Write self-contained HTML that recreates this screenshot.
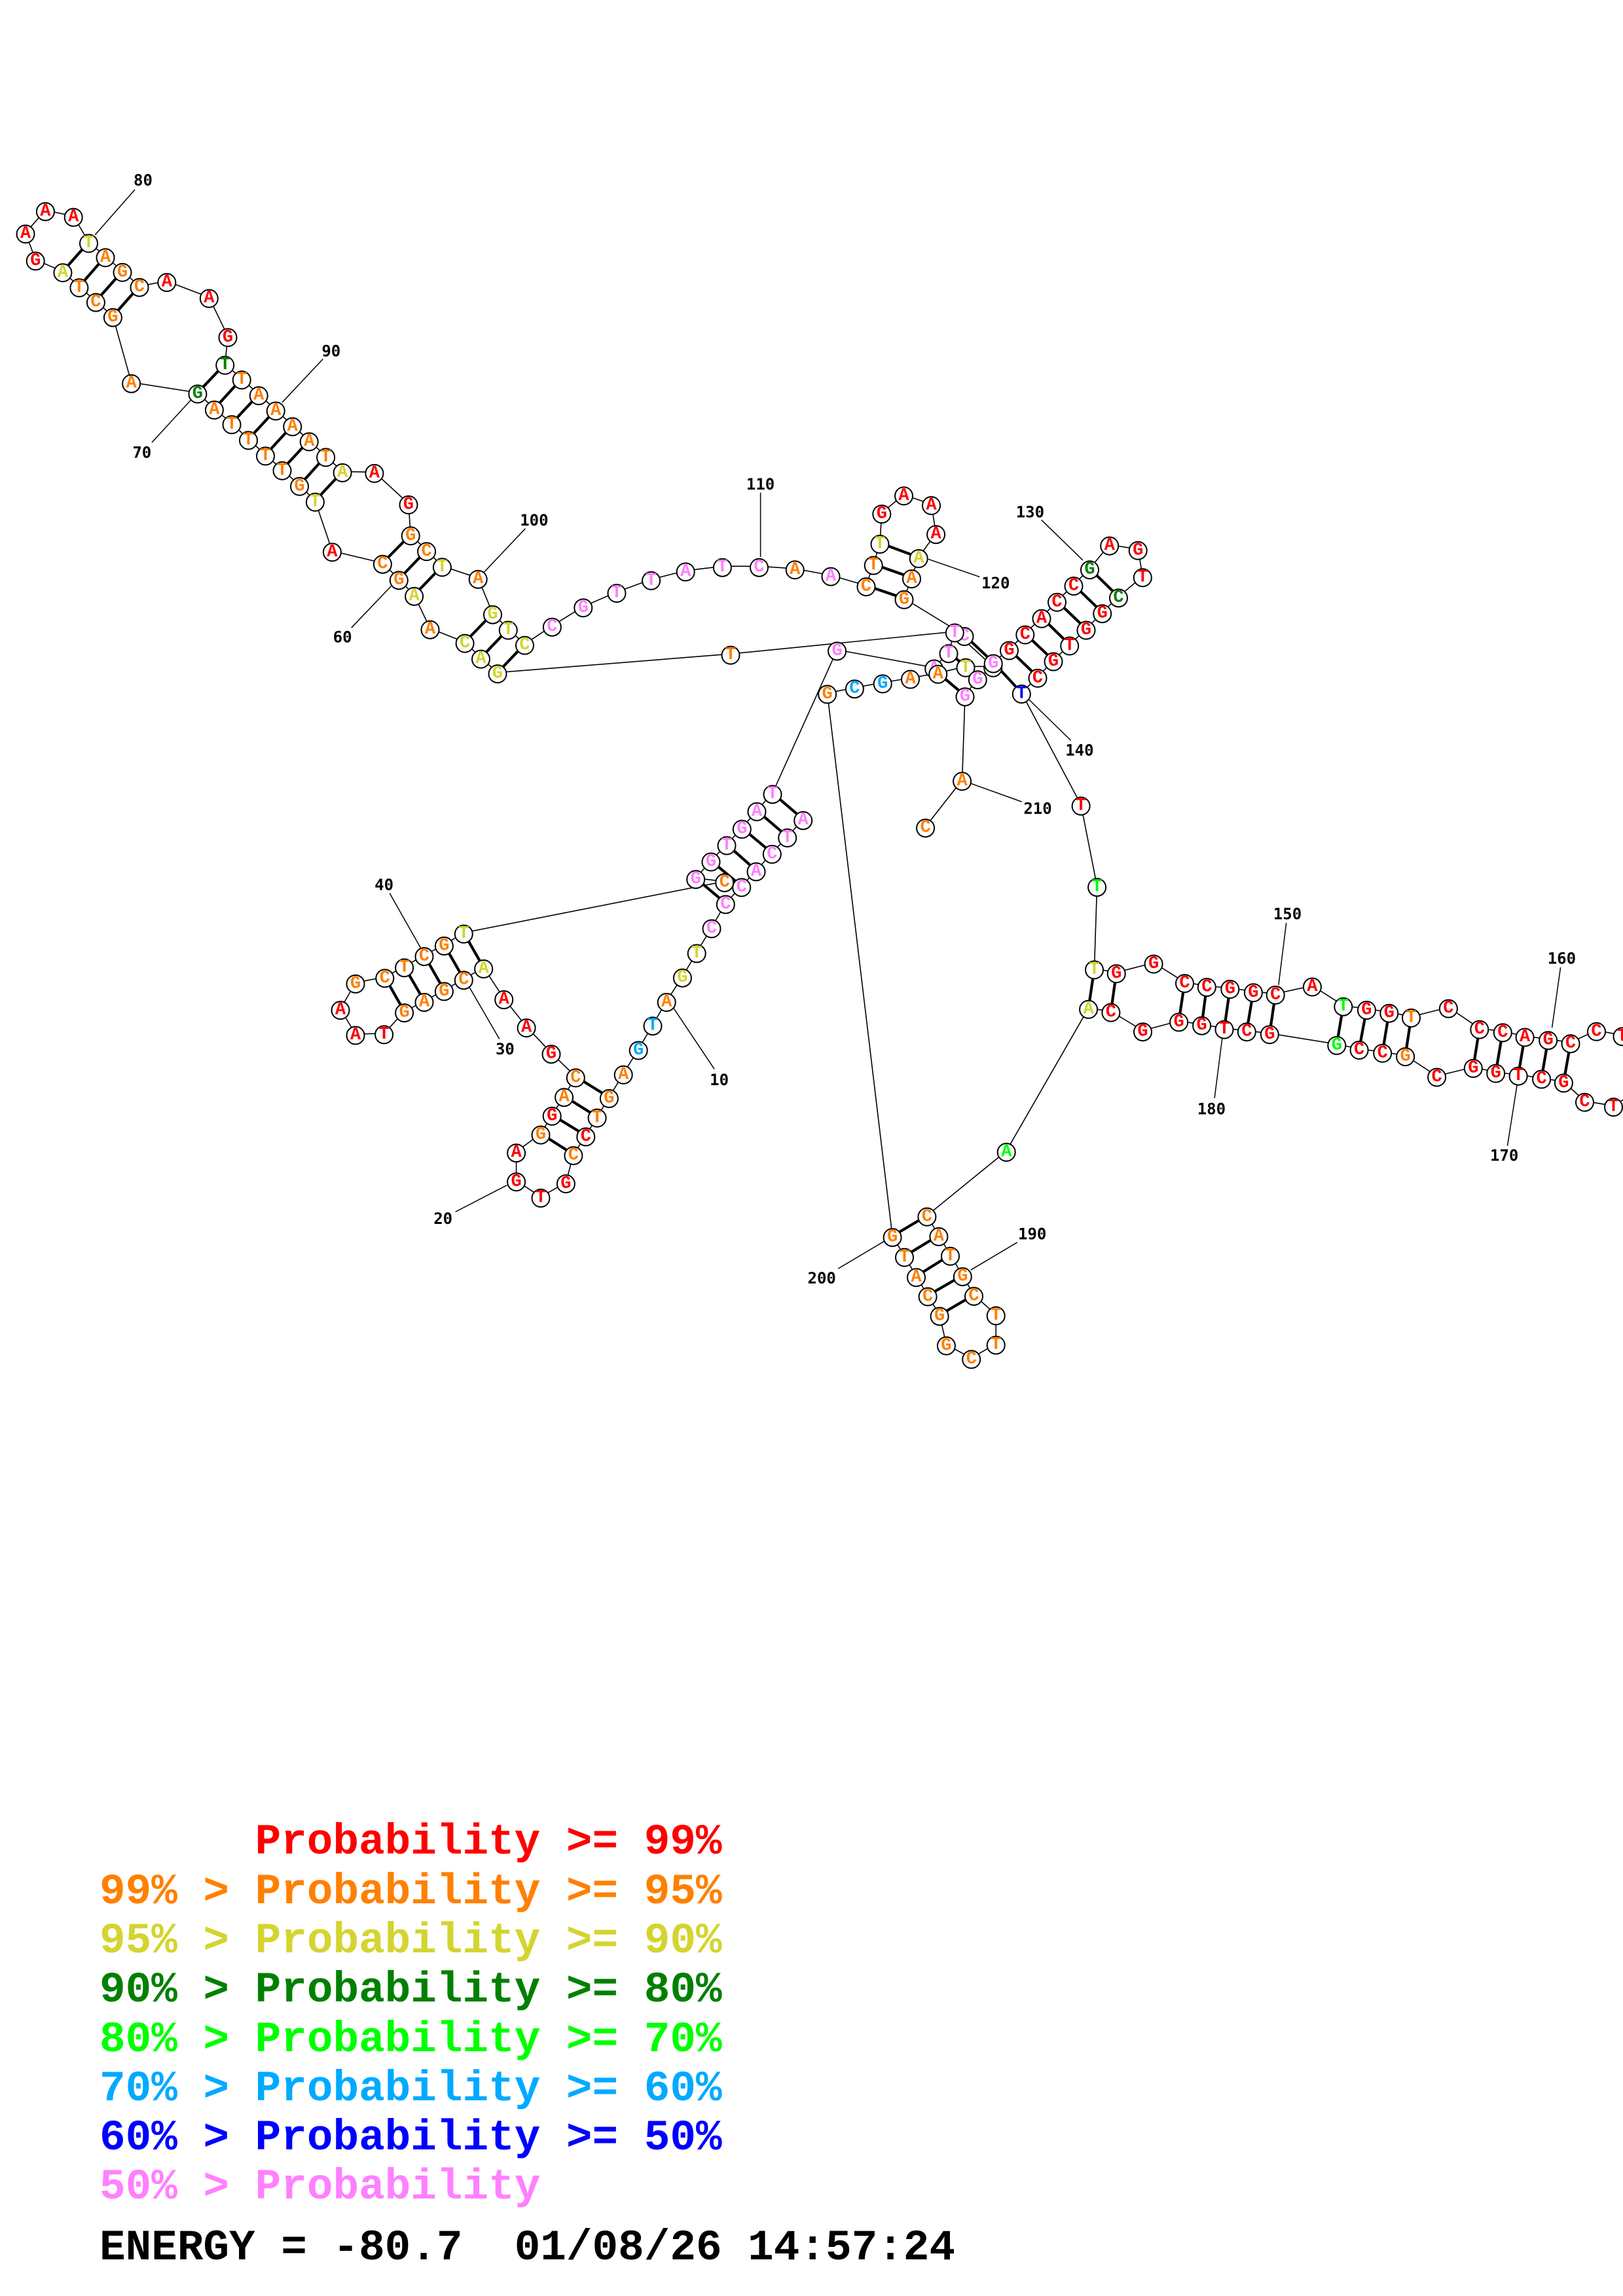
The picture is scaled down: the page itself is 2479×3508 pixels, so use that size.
<!DOCTYPE html>
<html><head><meta charset="utf-8"><style>
html,body{margin:0;padding:0;background:#fff}
svg{display:block}
.nd circle{fill:#fff;stroke:#000;stroke-width:2}
.nd text{font-family:"Liberation Mono","DejaVu Sans Mono",monospace;font-weight:bold;font-size:27px;text-anchor:middle;dominant-baseline:central}
.r{fill:#ff0000}.o{fill:#ff8000}.y{fill:#d4d430}.dg{fill:#008000}.g{fill:#00ff00}.lb{fill:#00aaff}.b{fill:#0000ff}.p{fill:#ff80ff}
.lab{font-family:"DejaVu Sans Mono","Liberation Mono",monospace;font-weight:bold;font-size:24px;text-anchor:middle;dominant-baseline:central;fill:#000}
.leg{font-family:"Liberation Mono","Courier New",monospace;font-weight:bold;font-size:66px;white-space:pre}
</style></head><body>
<svg width="2479" height="3508" viewBox="0 0 2479 3508" xmlns="http://www.w3.org/2000/svg">
<rect width="2479" height="3508" fill="#fff"/>
<!-- backbone -->
<polyline fill="none" stroke="#000" stroke-width="1.6" points="1226.7,1251.7 1202.7,1278.3 1179.3,1303.3 1155,1330 1132.7,1354 1108.3,1380 1087,1417 1064.2,1454.9 1042.4,1492.2 1018.2,1529.5 997,1565.7 975.2,1603 952.2,1640.3 930.4,1676.5 912.1,1706.3 894.8,1735 875.9,1763.7 864.4,1806.8 826,1828.6 788.6,1803.9 788.6,1759.7 826,1732.1 843.2,1703.4 861.6,1674.7 879.3,1644.9 842,1608.7 804.1,1568.6 769.7,1525.5 738.7,1478.4 708.3,1495.7 678.4,1512.9 648,1529.5 617.6,1545.6 586.6,1578.9 543,1580 520,1541.6 543,1501.4 587.8,1492.8 617.6,1476.7 648,1459.5 678.4,1443.4 708.3,1425.1 1106.7,1346.7 1062.7,1341.7 1086,1315 1110,1290 1133.3,1265 1156,1238.3 1180,1211.7 1278.6,992.9 1426.7,1020 1449,996.7 1458.3,965 1116,999.1 760,1027.6 734.5,1005.1 710.1,981.1 657,960.2 632.6,909.2 609.3,884.7 584.4,860.2 507.4,841.8 481.4,765.3 457.5,741.3 431,717.3 405.5,694.9 379.5,670.9 354,646.9 327.4,624.5 301.9,600 200.6,584.2 172.4,483.2 146.4,460.2 120.9,437.8 95.9,414.8 54.2,396.9 39,355.6 69.4,321.4 112.2,330.1 135.5,369.9 161,391.8 187,414.3 213,437.2 254.8,429.6 319.3,454.1 348,513.8 343.7,556.1 369.2,578.6 395.2,602.6 421.2,626 446.7,650 472.2,673 497.6,696.9 523.1,720.4 571.9,721.4 624,769.4 627.2,816.8 651.6,840.8 675.4,864.8 730.2,883.2 752.5,937.2 776.3,961 801.5,984.1 843.4,956.2 890.8,926.8 942,904.5 994.6,885.3 1047.2,871.9 1103.4,865.2 1159.5,865.2 1214.2,868.8 1269,879 1323,894.6 1334.2,862 1344,829.5 1346.8,783.5 1380.5,755.8 1422.5,770.5 1429.6,814.7 1403.2,851.5 1392.5,882.5 1381,914.3 1473,970.5 1517.2,1012 1541.5,992 1565.8,968 1591,943.3 1614.5,918.3 1640,893.5 1664.5,868.7 1694.7,832.1 1738.2,839.3 1745.3,880.6 1708.5,911.7 1683.7,935.7 1659,961 1633.7,985 1609,1009 1585,1034.3 1560.3,1058.5 1651.1,1229.6 1675.6,1353.7 1671.5,1479.9 1705.2,1485.8 1762.1,1471 1809.5,1500.6 1843.3,1506.5 1878.8,1509.5 1914.4,1514.8 1948.2,1518.4 2004.4,1506 2051.8,1536.2 2087.4,1541.5 2121.8,1546.2 2155.5,1553.4 2212.4,1539.1 2259.8,1571.1 2295.3,1575.9 2329.1,1583 2364.7,1587.7 2399,1592.7 2438.5,1574.3 2478,1581.8 2512,1608 2508,1662 2464.5,1689.6 2420.5,1682.2 2388.4,1652.9 2354.6,1647 2319.1,1642.2 2284.7,1638.1 2250.3,1630.4 2194.6,1644 2146.6,1612.6 2111.7,1607.3 2076.1,1602.5 2041.8,1595.4 1939.3,1578.8 1904.3,1574.7 1870,1571.1 1835.6,1565.2 1800.6,1559.9 1745.5,1574.7 1696.9,1545.1 1662.6,1540.3 1537.2,1758.5 1415.9,1857.3 1433.9,1887.5 1451.5,1917.4 1470.3,1948.7 1487.5,1978.6 1521.2,2008.4 1521.2,2053.2 1483.7,2075 1445.4,2054.3 1435.1,2009.2 1417.1,1979.3 1399.5,1949.9 1381.5,1919.3 1363.1,1888.7 1263.6,1058.9 1305.4,1050.7 1348.2,1042.9 1390.5,1036 1432.7,1028.3 1475,1018.3 1516.7,1018.3 1493.3,1036.7 1474,1062.7 1469.6,1191.8 1413.6,1263.2"/>
<line x1="1458.3" y1="965" x2="1516.7" y2="1018.3" stroke="#000" stroke-width="1.6"/>
<!-- pairs -->
<g stroke="#000" stroke-width="4.2" stroke-linecap="round">
<line x1="1226.7" y1="1251.7" x2="1180" y2="1211.7"/>
<line x1="1202.7" y1="1278.3" x2="1156" y2="1238.3"/>
<line x1="1179.3" y1="1303.3" x2="1133.3" y2="1265"/>
<line x1="1155" y1="1330" x2="1110" y2="1290"/>
<line x1="1132.7" y1="1354" x2="1086" y2="1315"/>
<line x1="1108.3" y1="1380" x2="1062.7" y2="1341.7"/>
<line x1="930.4" y1="1676.5" x2="879.3" y2="1644.9"/>
<line x1="912.1" y1="1706.3" x2="861.6" y2="1674.7"/>
<line x1="894.8" y1="1735" x2="843.2" y2="1703.4"/>
<line x1="875.9" y1="1763.7" x2="826" y2="1732.1"/>
<line x1="738.7" y1="1478.4" x2="708.3" y2="1425.1"/>
<line x1="708.3" y1="1495.7" x2="678.4" y2="1443.4"/>
<line x1="678.4" y1="1512.9" x2="648" y2="1459.5"/>
<line x1="648" y1="1529.5" x2="617.6" y2="1476.7"/>
<line x1="617.6" y1="1545.6" x2="587.8" y2="1492.8"/>
<line x1="760" y1="1027.6" x2="801.5" y2="984.1"/>
<line x1="734.5" y1="1005.1" x2="776.3" y2="961"/>
<line x1="710.1" y1="981.1" x2="752.5" y2="937.2"/>
<line x1="632.6" y1="909.2" x2="675.4" y2="864.8"/>
<line x1="609.3" y1="884.7" x2="651.6" y2="840.8"/>
<line x1="584.4" y1="860.2" x2="627.2" y2="816.8"/>
<line x1="481.4" y1="765.3" x2="523.1" y2="720.4"/>
<line x1="457.5" y1="741.3" x2="497.6" y2="696.9"/>
<line x1="431" y1="717.3" x2="472.2" y2="673"/>
<line x1="405.5" y1="694.9" x2="446.7" y2="650"/>
<line x1="379.5" y1="670.9" x2="421.2" y2="626"/>
<line x1="354" y1="646.9" x2="395.2" y2="602.6"/>
<line x1="327.4" y1="624.5" x2="369.2" y2="578.6"/>
<line x1="301.9" y1="600" x2="343.7" y2="556.1"/>
<line x1="172.4" y1="483.2" x2="213" y2="437.2"/>
<line x1="146.4" y1="460.2" x2="187" y2="414.3"/>
<line x1="120.9" y1="437.8" x2="161" y2="391.8"/>
<line x1="95.9" y1="414.8" x2="135.5" y2="369.9"/>
<line x1="1323" y1="894.6" x2="1381" y2="914.3"/>
<line x1="1334.2" y1="862" x2="1392.5" y2="882.5"/>
<line x1="1344" y1="829.5" x2="1403.2" y2="851.5"/>
<line x1="1473" y1="970.5" x2="1517.2" y2="1012"/>
<line x1="1517.2" y1="1012" x2="1560.3" y2="1058.5"/>
<line x1="1541.5" y1="992" x2="1585" y2="1034.3"/>
<line x1="1565.8" y1="968" x2="1609" y2="1009"/>
<line x1="1591" y1="943.3" x2="1633.7" y2="985"/>
<line x1="1614.5" y1="918.3" x2="1659" y2="961"/>
<line x1="1640" y1="893.5" x2="1683.7" y2="935.7"/>
<line x1="1664.5" y1="868.7" x2="1708.5" y2="911.7"/>
<line x1="1671.5" y1="1479.9" x2="1662.6" y2="1540.3"/>
<line x1="1705.2" y1="1485.8" x2="1696.9" y2="1545.1"/>
<line x1="1809.5" y1="1500.6" x2="1800.6" y2="1559.9"/>
<line x1="1843.3" y1="1506.5" x2="1835.6" y2="1565.2"/>
<line x1="1878.8" y1="1509.5" x2="1870" y2="1571.1"/>
<line x1="1914.4" y1="1514.8" x2="1904.3" y2="1574.7"/>
<line x1="1948.2" y1="1518.4" x2="1939.3" y2="1578.8"/>
<line x1="2051.8" y1="1536.2" x2="2041.8" y2="1595.4"/>
<line x1="2087.4" y1="1541.5" x2="2076.1" y2="1602.5"/>
<line x1="2121.8" y1="1546.2" x2="2111.7" y2="1607.3"/>
<line x1="2155.5" y1="1553.4" x2="2146.6" y2="1612.6"/>
<line x1="2259.8" y1="1571.1" x2="2250.3" y2="1630.4"/>
<line x1="2295.3" y1="1575.9" x2="2284.7" y2="1638.1"/>
<line x1="2329.1" y1="1583" x2="2319.1" y2="1642.2"/>
<line x1="2364.7" y1="1587.7" x2="2354.6" y2="1647"/>
<line x1="2399" y1="1592.7" x2="2388.4" y2="1652.9"/>
<line x1="1415.9" y1="1857.3" x2="1363.1" y2="1888.7"/>
<line x1="1433.9" y1="1887.5" x2="1381.5" y2="1919.3"/>
<line x1="1451.5" y1="1917.4" x2="1399.5" y2="1949.9"/>
<line x1="1470.3" y1="1948.7" x2="1417.1" y2="1979.3"/>
<line x1="1487.5" y1="1978.6" x2="1435.1" y2="2009.2"/>
<line x1="1432.7" y1="1028.3" x2="1474" y2="1062.7"/>
<line x1="1449" y1="996.7" x2="1475" y2="1018.3"/>
</g>
<!-- label leaders -->
<g stroke="#000" stroke-width="1.5">
<line x1="145.3" y1="358.7" x2="206" y2="289.8"/>
<line x1="431" y1="614.8" x2="493.3" y2="548.5"/>
<line x1="295.4" y1="607" x2="232" y2="676"/>
<line x1="737.2" y1="876.5" x2="802.3" y2="807.7"/>
<line x1="599" y1="893.9" x2="536.7" y2="959.2"/>
<line x1="1161.6" y1="752.7" x2="1161.6" y2="851"/>
<line x1="1417.9" y1="854.3" x2="1496.4" y2="881.4"/>
<line x1="1590.9" y1="794.6" x2="1654" y2="856"/>
<line x1="1570.7" y1="1067.9" x2="1635.7" y2="1131.4"/>
<line x1="1964.7" y1="1410" x2="1952.9" y2="1504.8"/>
<line x1="2383.6" y1="1478.1" x2="2370.6" y2="1570"/>
<line x1="2317.9" y1="1652.9" x2="2302.5" y2="1750.6"/>
<line x1="1867" y1="1584.8" x2="1855.1" y2="1677.8"/>
<line x1="1482.9" y1="1940.3" x2="1553.7" y2="1898.2"/>
<line x1="1280.1" y1="1938.4" x2="1350.9" y2="1896.3"/>
<line x1="1482.9" y1="1197.1" x2="1560.7" y2="1225"/>
<line x1="1028.6" y1="1539.9" x2="1091.1" y2="1633.4"/>
<line x1="774.3" y1="1810.8" x2="695.7" y2="1851.5"/>
<line x1="716.9" y1="1508.3" x2="762.8" y2="1587.5"/>
<line x1="595.2" y1="1364.8" x2="642.3" y2="1448"/>
</g>
<g class="lab">
<text x="218.5" y="275.5">80</text>
<text x="505.8" y="536.7">90</text>
<text x="216.8" y="691.3">70</text>
<text x="815.9" y="794.9">100</text>
<text x="523.1" y="973.5">60</text>
<text x="1161.6" y="740.2">110</text>
<text x="1520.8" y="891.1">120</text>
<text x="1573.4" y="782.6">130</text>
<text x="1648.9" y="1146.4">140</text>
<text x="1966.5" y="1396.3">150</text>
<text x="2385.4" y="1464.5">160</text>
<text x="2297.7" y="1765.5">170</text>
<text x="1850.4" y="1694.4">180</text>
<text x="1576.7" y="1885.6">190</text>
<text x="1255.2" y="1953">200</text>
<text x="1585" y="1235.7">210</text>
<text x="1098.6" y="1650">10</text>
<text x="676.7" y="1861.9">20</text>
<text x="771.4" y="1603">30</text>
<text x="586.6" y="1352.2">40</text>
</g>
<!-- nucleotides -->
<g class="nd"><g transform="translate(0,2)">
<circle cx="1426.7" cy="1020" r="13.5"/><text x="1426.7" y="1020" class="p">A</text>
<circle cx="1516.7" cy="1018.3" r="13.5"/><text x="1516.7" y="1018.3" class="p">G</text>
<circle cx="1473" cy="970.5" r="13.5"/><text x="1473" y="970.5" class="p">C</text>
<circle cx="1226.7" cy="1251.7" r="13.5"/><text x="1226.7" y="1251.7" class="p">A</text>
<circle cx="1202.7" cy="1278.3" r="13.5"/><text x="1202.7" y="1278.3" class="p">T</text>
<circle cx="1179.3" cy="1303.3" r="13.5"/><text x="1179.3" y="1303.3" class="p">C</text>
<circle cx="1155" cy="1330" r="13.5"/><text x="1155" y="1330" class="p">A</text>
<circle cx="1132.7" cy="1354" r="13.5"/><text x="1132.7" y="1354" class="p">C</text>
<circle cx="1108.3" cy="1380" r="13.5"/><text x="1108.3" y="1380" class="p">C</text>
<circle cx="1087" cy="1417" r="13.5"/><text x="1087" y="1417" class="p">C</text>
<circle cx="1064.2" cy="1454.9" r="13.5"/><text x="1064.2" y="1454.9" class="y">T</text>
<circle cx="1042.4" cy="1492.2" r="13.5"/><text x="1042.4" y="1492.2" class="y">G</text>
<circle cx="1018.2" cy="1529.5" r="13.5"/><text x="1018.2" y="1529.5" class="o">A</text>
<circle cx="997" cy="1565.7" r="13.5"/><text x="997" y="1565.7" class="lb">T</text>
<circle cx="975.2" cy="1603" r="13.5"/><text x="975.2" y="1603" class="lb">G</text>
<circle cx="952.2" cy="1640.3" r="13.5"/><text x="952.2" y="1640.3" class="o">A</text>
<circle cx="930.4" cy="1676.5" r="13.5"/><text x="930.4" y="1676.5" class="o">G</text>
<circle cx="912.1" cy="1706.3" r="13.5"/><text x="912.1" y="1706.3" class="o">T</text>
<circle cx="894.8" cy="1735" r="13.5"/><text x="894.8" y="1735" class="r">C</text>
<circle cx="875.9" cy="1763.7" r="13.5"/><text x="875.9" y="1763.7" class="o">C</text>
<circle cx="864.4" cy="1806.8" r="13.5"/><text x="864.4" y="1806.8" class="r">G</text>
<circle cx="826" cy="1828.6" r="13.5"/><text x="826" y="1828.6" class="r">T</text>
<circle cx="788.6" cy="1803.9" r="13.5"/><text x="788.6" y="1803.9" class="r">G</text>
<circle cx="788.6" cy="1759.7" r="13.5"/><text x="788.6" y="1759.7" class="r">A</text>
<circle cx="826" cy="1732.1" r="13.5"/><text x="826" y="1732.1" class="o">G</text>
<circle cx="843.2" cy="1703.4" r="13.5"/><text x="843.2" y="1703.4" class="r">G</text>
<circle cx="861.6" cy="1674.7" r="13.5"/><text x="861.6" y="1674.7" class="o">A</text>
<circle cx="879.3" cy="1644.9" r="13.5"/><text x="879.3" y="1644.9" class="o">C</text>
<circle cx="842" cy="1608.7" r="13.5"/><text x="842" y="1608.7" class="r">G</text>
<circle cx="804.1" cy="1568.6" r="13.5"/><text x="804.1" y="1568.6" class="r">A</text>
<circle cx="769.7" cy="1525.5" r="13.5"/><text x="769.7" y="1525.5" class="r">A</text>
<circle cx="738.7" cy="1478.4" r="13.5"/><text x="738.7" y="1478.4" class="y">A</text>
<circle cx="708.3" cy="1495.7" r="13.5"/><text x="708.3" y="1495.7" class="o">C</text>
<circle cx="678.4" cy="1512.9" r="13.5"/><text x="678.4" y="1512.9" class="o">G</text>
<circle cx="648" cy="1529.5" r="13.5"/><text x="648" y="1529.5" class="o">A</text>
<circle cx="617.6" cy="1545.6" r="13.5"/><text x="617.6" y="1545.6" class="o">G</text>
<circle cx="586.6" cy="1578.9" r="13.5"/><text x="586.6" y="1578.9" class="r">T</text>
<circle cx="543" cy="1580" r="13.5"/><text x="543" y="1580" class="r">A</text>
<circle cx="520" cy="1541.6" r="13.5"/><text x="520" y="1541.6" class="r">A</text>
<circle cx="543" cy="1501.4" r="13.5"/><text x="543" y="1501.4" class="o">G</text>
<circle cx="587.8" cy="1492.8" r="13.5"/><text x="587.8" y="1492.8" class="o">C</text>
<circle cx="617.6" cy="1476.7" r="13.5"/><text x="617.6" y="1476.7" class="o">T</text>
<circle cx="648" cy="1459.5" r="13.5"/><text x="648" y="1459.5" class="o">C</text>
<circle cx="678.4" cy="1443.4" r="13.5"/><text x="678.4" y="1443.4" class="o">G</text>
<circle cx="708.3" cy="1425.1" r="13.5"/><text x="708.3" y="1425.1" class="y">T</text>
<circle cx="1062.7" cy="1341.7" r="13.5"/><text x="1062.7" y="1341.7" class="p">G</text>
<circle cx="1106.7" cy="1346.7" r="13.5"/><text x="1106.7" y="1346.7" class="o">C</text>
<circle cx="1086" cy="1315" r="13.5"/><text x="1086" y="1315" class="p">G</text>
<circle cx="1110" cy="1290" r="13.5"/><text x="1110" y="1290" class="p">T</text>
<circle cx="1133.3" cy="1265" r="13.5"/><text x="1133.3" y="1265" class="p">G</text>
<circle cx="1156" cy="1238.3" r="13.5"/><text x="1156" y="1238.3" class="p">A</text>
<circle cx="1180" cy="1211.7" r="13.5"/><text x="1180" y="1211.7" class="p">T</text>
<circle cx="1278.6" cy="992.9" r="13.5"/><text x="1278.6" y="992.9" class="p">G</text>
<circle cx="1449" cy="996.7" r="13.5"/><text x="1449" y="996.7" class="p">T</text>
<circle cx="1458.3" cy="965" r="13.5"/><text x="1458.3" y="965" class="p">T</text>
<circle cx="1116" cy="999.1" r="13.5"/><text x="1116" y="999.1" class="o">T</text>
<circle cx="760" cy="1027.6" r="13.5"/><text x="760" y="1027.6" class="y">G</text>
<circle cx="734.5" cy="1005.1" r="13.5"/><text x="734.5" y="1005.1" class="y">A</text>
<circle cx="710.1" cy="981.1" r="13.5"/><text x="710.1" y="981.1" class="y">C</text>
<circle cx="657" cy="960.2" r="13.5"/><text x="657" y="960.2" class="o">A</text>
<circle cx="632.6" cy="909.2" r="13.5"/><text x="632.6" y="909.2" class="y">A</text>
<circle cx="609.3" cy="884.7" r="13.5"/><text x="609.3" y="884.7" class="o">G</text>
<circle cx="584.4" cy="860.2" r="13.5"/><text x="584.4" y="860.2" class="o">C</text>
<circle cx="507.4" cy="841.8" r="13.5"/><text x="507.4" y="841.8" class="r">A</text>
<circle cx="481.4" cy="765.3" r="13.5"/><text x="481.4" y="765.3" class="y">T</text>
<circle cx="457.5" cy="741.3" r="13.5"/><text x="457.5" y="741.3" class="o">G</text>
<circle cx="431" cy="717.3" r="13.5"/><text x="431" y="717.3" class="o">T</text>
<circle cx="405.5" cy="694.9" r="13.5"/><text x="405.5" y="694.9" class="o">T</text>
<circle cx="379.5" cy="670.9" r="13.5"/><text x="379.5" y="670.9" class="o">T</text>
<circle cx="354" cy="646.9" r="13.5"/><text x="354" y="646.9" class="o">T</text>
<circle cx="327.4" cy="624.5" r="13.5"/><text x="327.4" y="624.5" class="o">A</text>
<circle cx="301.9" cy="600" r="13.5"/><text x="301.9" y="600" class="dg">G</text>
<circle cx="200.6" cy="584.2" r="13.5"/><text x="200.6" y="584.2" class="o">A</text>
<circle cx="172.4" cy="483.2" r="13.5"/><text x="172.4" y="483.2" class="o">G</text>
<circle cx="146.4" cy="460.2" r="13.5"/><text x="146.4" y="460.2" class="o">C</text>
<circle cx="120.9" cy="437.8" r="13.5"/><text x="120.9" y="437.8" class="o">T</text>
<circle cx="95.9" cy="414.8" r="13.5"/><text x="95.9" y="414.8" class="y">A</text>
<circle cx="54.2" cy="396.9" r="13.5"/><text x="54.2" y="396.9" class="r">G</text>
<circle cx="39" cy="355.6" r="13.5"/><text x="39" y="355.6" class="r">A</text>
<circle cx="69.4" cy="321.4" r="13.5"/><text x="69.4" y="321.4" class="r">A</text>
<circle cx="112.2" cy="330.1" r="13.5"/><text x="112.2" y="330.1" class="r">A</text>
<circle cx="135.5" cy="369.9" r="13.5"/><text x="135.5" y="369.9" class="y">T</text>
<circle cx="161" cy="391.8" r="13.5"/><text x="161" y="391.8" class="o">A</text>
<circle cx="187" cy="414.3" r="13.5"/><text x="187" y="414.3" class="o">G</text>
<circle cx="213" cy="437.2" r="13.5"/><text x="213" y="437.2" class="o">C</text>
<circle cx="254.8" cy="429.6" r="13.5"/><text x="254.8" y="429.6" class="r">A</text>
<circle cx="319.3" cy="454.1" r="13.5"/><text x="319.3" y="454.1" class="r">A</text>
<circle cx="348" cy="513.8" r="13.5"/><text x="348" y="513.8" class="r">G</text>
<circle cx="343.7" cy="556.1" r="13.5"/><text x="343.7" y="556.1" class="dg">T</text>
<circle cx="369.2" cy="578.6" r="13.5"/><text x="369.2" y="578.6" class="o">T</text>
<circle cx="395.2" cy="602.6" r="13.5"/><text x="395.2" y="602.6" class="o">A</text>
<circle cx="421.2" cy="626" r="13.5"/><text x="421.2" y="626" class="o">A</text>
<circle cx="446.7" cy="650" r="13.5"/><text x="446.7" y="650" class="o">A</text>
<circle cx="472.2" cy="673" r="13.5"/><text x="472.2" y="673" class="o">A</text>
<circle cx="497.6" cy="696.9" r="13.5"/><text x="497.6" y="696.9" class="o">T</text>
<circle cx="523.1" cy="720.4" r="13.5"/><text x="523.1" y="720.4" class="y">A</text>
<circle cx="571.9" cy="721.4" r="13.5"/><text x="571.9" y="721.4" class="r">A</text>
<circle cx="624" cy="769.4" r="13.5"/><text x="624" y="769.4" class="r">G</text>
<circle cx="627.2" cy="816.8" r="13.5"/><text x="627.2" y="816.8" class="o">G</text>
<circle cx="651.6" cy="840.8" r="13.5"/><text x="651.6" y="840.8" class="o">C</text>
<circle cx="675.4" cy="864.8" r="13.5"/><text x="675.4" y="864.8" class="y">T</text>
<circle cx="730.2" cy="883.2" r="13.5"/><text x="730.2" y="883.2" class="o">A</text>
<circle cx="752.5" cy="937.2" r="13.5"/><text x="752.5" y="937.2" class="y">G</text>
<circle cx="776.3" cy="961" r="13.5"/><text x="776.3" y="961" class="y">T</text>
<circle cx="801.5" cy="984.1" r="13.5"/><text x="801.5" y="984.1" class="y">C</text>
<circle cx="843.4" cy="956.2" r="13.5"/><text x="843.4" y="956.2" class="p">C</text>
<circle cx="890.8" cy="926.8" r="13.5"/><text x="890.8" y="926.8" class="p">G</text>
<circle cx="942" cy="904.5" r="13.5"/><text x="942" y="904.5" class="p">T</text>
<circle cx="994.6" cy="885.3" r="13.5"/><text x="994.6" y="885.3" class="p">T</text>
<circle cx="1047.2" cy="871.9" r="13.5"/><text x="1047.2" y="871.9" class="p">A</text>
<circle cx="1103.4" cy="865.2" r="13.5"/><text x="1103.4" y="865.2" class="p">T</text>
<circle cx="1159.5" cy="865.2" r="13.5"/><text x="1159.5" y="865.2" class="p">C</text>
<circle cx="1214.2" cy="868.8" r="13.5"/><text x="1214.2" y="868.8" class="o">A</text>
<circle cx="1269" cy="879" r="13.5"/><text x="1269" y="879" class="p">A</text>
<circle cx="1323" cy="894.6" r="13.5"/><text x="1323" y="894.6" class="o">C</text>
<circle cx="1334.2" cy="862" r="13.5"/><text x="1334.2" y="862" class="o">T</text>
<circle cx="1344" cy="829.5" r="13.5"/><text x="1344" y="829.5" class="y">T</text>
<circle cx="1346.8" cy="783.5" r="13.5"/><text x="1346.8" y="783.5" class="r">G</text>
<circle cx="1380.5" cy="755.8" r="13.5"/><text x="1380.5" y="755.8" class="r">A</text>
<circle cx="1422.5" cy="770.5" r="13.5"/><text x="1422.5" y="770.5" class="r">A</text>
<circle cx="1429.6" cy="814.7" r="13.5"/><text x="1429.6" y="814.7" class="r">A</text>
<circle cx="1403.2" cy="851.5" r="13.5"/><text x="1403.2" y="851.5" class="y">A</text>
<circle cx="1392.5" cy="882.5" r="13.5"/><text x="1392.5" y="882.5" class="o">A</text>
<circle cx="1381" cy="914.3" r="13.5"/><text x="1381" y="914.3" class="o">G</text>
<circle cx="1541.5" cy="992" r="13.5"/><text x="1541.5" y="992" class="r">G</text>
<circle cx="1565.8" cy="968" r="13.5"/><text x="1565.8" y="968" class="r">C</text>
<circle cx="1591" cy="943.3" r="13.5"/><text x="1591" y="943.3" class="r">A</text>
<circle cx="1614.5" cy="918.3" r="13.5"/><text x="1614.5" y="918.3" class="r">C</text>
<circle cx="1640" cy="893.5" r="13.5"/><text x="1640" y="893.5" class="r">C</text>
<circle cx="1664.5" cy="868.7" r="13.5"/><text x="1664.5" y="868.7" class="dg">G</text>
<circle cx="1694.7" cy="832.1" r="13.5"/><text x="1694.7" y="832.1" class="r">A</text>
<circle cx="1738.2" cy="839.3" r="13.5"/><text x="1738.2" y="839.3" class="r">G</text>
<circle cx="1745.3" cy="880.6" r="13.5"/><text x="1745.3" y="880.6" class="r">T</text>
<circle cx="1708.5" cy="911.7" r="13.5"/><text x="1708.5" y="911.7" class="dg">C</text>
<circle cx="1683.7" cy="935.7" r="13.5"/><text x="1683.7" y="935.7" class="r">G</text>
<circle cx="1659" cy="961" r="13.5"/><text x="1659" y="961" class="r">G</text>
<circle cx="1633.7" cy="985" r="13.5"/><text x="1633.7" y="985" class="r">T</text>
<circle cx="1609" cy="1009" r="13.5"/><text x="1609" y="1009" class="r">G</text>
<circle cx="1585" cy="1034.3" r="13.5"/><text x="1585" y="1034.3" class="r">C</text>
<circle cx="1560.3" cy="1058.5" r="13.5"/><text x="1560.3" y="1058.5" class="b">T</text>
<circle cx="1651.1" cy="1229.6" r="13.5"/><text x="1651.1" y="1229.6" class="r">T</text>
<circle cx="1675.6" cy="1353.7" r="13.5"/><text x="1675.6" y="1353.7" class="g">T</text>
<circle cx="1671.5" cy="1479.9" r="13.5"/><text x="1671.5" y="1479.9" class="y">T</text>
<circle cx="1705.2" cy="1485.8" r="13.5"/><text x="1705.2" y="1485.8" class="r">G</text>
<circle cx="1762.1" cy="1471" r="13.5"/><text x="1762.1" y="1471" class="r">G</text>
<circle cx="1809.5" cy="1500.6" r="13.5"/><text x="1809.5" y="1500.6" class="r">C</text>
<circle cx="1843.3" cy="1506.5" r="13.5"/><text x="1843.3" y="1506.5" class="r">C</text>
<circle cx="1878.8" cy="1509.5" r="13.5"/><text x="1878.8" y="1509.5" class="r">G</text>
<circle cx="1914.4" cy="1514.8" r="13.5"/><text x="1914.4" y="1514.8" class="r">G</text>
<circle cx="1948.2" cy="1518.4" r="13.5"/><text x="1948.2" y="1518.4" class="r">C</text>
<circle cx="2004.4" cy="1506" r="13.5"/><text x="2004.4" y="1506" class="r">A</text>
<circle cx="2051.8" cy="1536.2" r="13.5"/><text x="2051.8" y="1536.2" class="g">T</text>
<circle cx="2087.4" cy="1541.5" r="13.5"/><text x="2087.4" y="1541.5" class="r">G</text>
<circle cx="2121.8" cy="1546.2" r="13.5"/><text x="2121.8" y="1546.2" class="r">G</text>
<circle cx="2155.5" cy="1553.4" r="13.5"/><text x="2155.5" y="1553.4" class="o">T</text>
<circle cx="2212.4" cy="1539.1" r="13.5"/><text x="2212.4" y="1539.1" class="r">C</text>
<circle cx="2259.8" cy="1571.1" r="13.5"/><text x="2259.8" y="1571.1" class="r">C</text>
<circle cx="2295.3" cy="1575.9" r="13.5"/><text x="2295.3" y="1575.9" class="r">C</text>
<circle cx="2329.1" cy="1583" r="13.5"/><text x="2329.1" y="1583" class="r">A</text>
<circle cx="2364.7" cy="1587.7" r="13.5"/><text x="2364.7" y="1587.7" class="r">G</text>
<circle cx="2399" cy="1592.7" r="13.5"/><text x="2399" y="1592.7" class="r">C</text>
<circle cx="2438.5" cy="1574.3" r="13.5"/><text x="2438.5" y="1574.3" class="r">C</text>
<circle cx="2478" cy="1581.8" r="13.5"/><text x="2478" y="1581.8" class="r">T</text>
<circle cx="2512" cy="1608" r="13.5"/><text x="2512" y="1608" class="r">C</text>
<circle cx="2508" cy="1662" r="13.5"/><text x="2508" y="1662" class="r">C</text>
<circle cx="2464.5" cy="1689.6" r="13.5"/><text x="2464.5" y="1689.6" class="r">T</text>
<circle cx="2420.5" cy="1682.2" r="13.5"/><text x="2420.5" y="1682.2" class="r">C</text>
<circle cx="2388.4" cy="1652.9" r="13.5"/><text x="2388.4" y="1652.9" class="r">G</text>
<circle cx="2354.6" cy="1647" r="13.5"/><text x="2354.6" y="1647" class="r">C</text>
<circle cx="2319.1" cy="1642.2" r="13.5"/><text x="2319.1" y="1642.2" class="r">T</text>
<circle cx="2284.7" cy="1638.1" r="13.5"/><text x="2284.7" y="1638.1" class="r">G</text>
<circle cx="2250.3" cy="1630.4" r="13.5"/><text x="2250.3" y="1630.4" class="r">G</text>
<circle cx="2194.6" cy="1644" r="13.5"/><text x="2194.6" y="1644" class="r">C</text>
<circle cx="2146.6" cy="1612.6" r="13.5"/><text x="2146.6" y="1612.6" class="o">G</text>
<circle cx="2111.7" cy="1607.3" r="13.5"/><text x="2111.7" y="1607.3" class="r">C</text>
<circle cx="2076.1" cy="1602.5" r="13.5"/><text x="2076.1" y="1602.5" class="r">C</text>
<circle cx="2041.8" cy="1595.4" r="13.5"/><text x="2041.8" y="1595.4" class="g">G</text>
<circle cx="1939.3" cy="1578.8" r="13.5"/><text x="1939.3" y="1578.8" class="r">G</text>
<circle cx="1904.3" cy="1574.7" r="13.5"/><text x="1904.3" y="1574.7" class="r">C</text>
<circle cx="1870" cy="1571.1" r="13.5"/><text x="1870" y="1571.1" class="r">T</text>
<circle cx="1835.6" cy="1565.2" r="13.5"/><text x="1835.6" y="1565.2" class="r">G</text>
<circle cx="1800.6" cy="1559.9" r="13.5"/><text x="1800.6" y="1559.9" class="r">G</text>
<circle cx="1745.5" cy="1574.7" r="13.5"/><text x="1745.5" y="1574.7" class="r">G</text>
<circle cx="1696.9" cy="1545.1" r="13.5"/><text x="1696.9" y="1545.1" class="r">C</text>
<circle cx="1662.6" cy="1540.3" r="13.5"/><text x="1662.6" y="1540.3" class="y">A</text>
<circle cx="1537.2" cy="1758.5" r="13.5"/><text x="1537.2" y="1758.5" class="g">A</text>
<circle cx="1415.9" cy="1857.3" r="13.5"/><text x="1415.9" y="1857.3" class="o">C</text>
<circle cx="1433.9" cy="1887.5" r="13.5"/><text x="1433.9" y="1887.5" class="o">A</text>
<circle cx="1451.5" cy="1917.4" r="13.5"/><text x="1451.5" y="1917.4" class="o">T</text>
<circle cx="1470.3" cy="1948.7" r="13.5"/><text x="1470.3" y="1948.7" class="o">G</text>
<circle cx="1487.5" cy="1978.6" r="13.5"/><text x="1487.5" y="1978.6" class="o">C</text>
<circle cx="1521.2" cy="2008.4" r="13.5"/><text x="1521.2" y="2008.4" class="o">T</text>
<circle cx="1521.2" cy="2053.2" r="13.5"/><text x="1521.2" y="2053.2" class="o">T</text>
<circle cx="1483.7" cy="2075" r="13.5"/><text x="1483.7" y="2075" class="o">C</text>
<circle cx="1445.4" cy="2054.3" r="13.5"/><text x="1445.4" y="2054.3" class="o">G</text>
<circle cx="1435.1" cy="2009.2" r="13.5"/><text x="1435.1" y="2009.2" class="o">G</text>
<circle cx="1417.1" cy="1979.3" r="13.5"/><text x="1417.1" y="1979.3" class="o">C</text>
<circle cx="1399.5" cy="1949.9" r="13.5"/><text x="1399.5" y="1949.9" class="o">A</text>
<circle cx="1381.5" cy="1919.3" r="13.5"/><text x="1381.5" y="1919.3" class="o">T</text>
<circle cx="1363.1" cy="1888.7" r="13.5"/><text x="1363.1" y="1888.7" class="o">G</text>
<circle cx="1263.6" cy="1058.9" r="13.5"/><text x="1263.6" y="1058.9" class="o">G</text>
<circle cx="1305.4" cy="1050.7" r="13.5"/><text x="1305.4" y="1050.7" class="lb">C</text>
<circle cx="1348.2" cy="1042.9" r="13.5"/><text x="1348.2" y="1042.9" class="lb">G</text>
<circle cx="1390.5" cy="1036" r="13.5"/><text x="1390.5" y="1036" class="o">A</text>
<circle cx="1432.7" cy="1028.3" r="13.5"/><text x="1432.7" y="1028.3" class="o">A</text>
<circle cx="1475" cy="1018.3" r="13.5"/><text x="1475" y="1018.3" class="y">T</text>
<circle cx="1517.2" cy="1012" r="13.5"/><text x="1517.2" y="1012" class="p">G</text>
<circle cx="1493.3" cy="1036.7" r="13.5"/><text x="1493.3" y="1036.7" class="p">G</text>
<circle cx="1474" cy="1062.7" r="13.5"/><text x="1474" y="1062.7" class="p">G</text>
<circle cx="1469.6" cy="1191.8" r="13.5"/><text x="1469.6" y="1191.8" class="o">A</text>
<circle cx="1413.6" cy="1263.2" r="13.5"/><text x="1413.6" y="1263.2" class="o">C</text>
</g></g>
<!-- legend -->
<g class="leg">
<text x="389.6" y="2832" fill="#ff0000">Probability &gt;= 99%</text>
<text x="152" y="2908" fill="#ff8000">99% &gt; Probability &gt;= 95%</text>
<text x="152" y="2983" fill="#d4d430">95% &gt; Probability &gt;= 90%</text>
<text x="152" y="3058" fill="#008000">90% &gt; Probability &gt;= 80%</text>
<text x="152" y="3134" fill="#00ff00">80% &gt; Probability &gt;= 70%</text>
<text x="152" y="3209" fill="#00aaff">70% &gt; Probability &gt;= 60%</text>
<text x="152" y="3284" fill="#0000ff">60% &gt; Probability &gt;= 50%</text>
<text x="152" y="3359" fill="#ff80ff">50% &gt; Probability</text>
<text x="152" y="3452" fill="#000000" xml:space="preserve">ENERGY = -80.7 &#160;01/08/26 14:57:24</text>
</g>
</svg>
</body></html>
